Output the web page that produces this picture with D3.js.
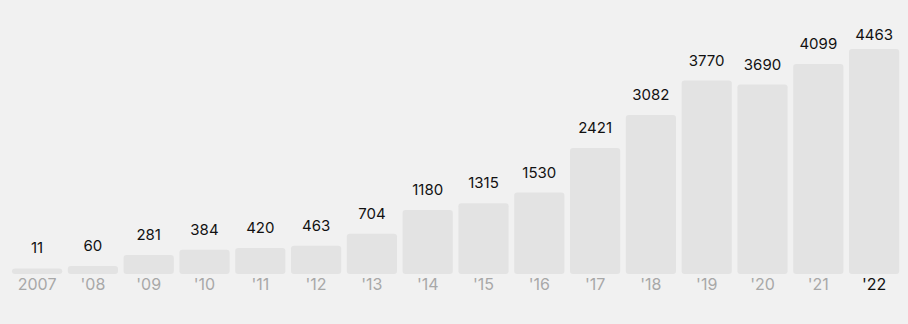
<html>
  <head>
    <script src="https://d3js.org/d3.v7.min.js"></script>
    <style>
      body { margin: 0; background: #f1f1f1; }
      svg { display: block; font-family: Inter, "Noto Sans", sans-serif; }
    </style>
  </head>

  <body>
    <svg id="vis"></svg>
  </body>

  <script>
    // Values per year
    var years = ['2007', "'08", "'09", "'10", "'11", "'12", "'13", "'14", "'15", "'16", "'17", "'18", "'19", "'20", "'21", "'22"]
    var counts = [11, 60, 281, 384, 420, 463, 704, 1180, 1315, 1530, 2421, 3082, 3770, 3690, 4099, 4463]
    var highlight = "'22"

    var width = 908
    var height = 324
    var baseline = 274

    var svg = d3.select('#vis')
      .attr('width', width)
      .attr('height', height)

    svg.append('rect')
      .attr('width', width)
      .attr('height', height)
      .attr('fill', '#f1f1f1')

    // x scale
    var x = d3.scaleBand()
      .domain(years)
      .range([6.4, 904.8])
      .padding(0.1)

    // y scale (bars keep a small minimum stub, tallest bar is capped)
    var y = d3.scaleLinear()
      .domain([0, 4400])
      .range([baseline - 5, baseline - 225])
      .clamp(true)

    var data = years.map(function(d, i){ return {year: d, value: counts[i]} })

    // Bars
    svg.append('g')
      .selectAll('rect')
      .data(data)
      .join('rect')
      .attr('x', function(d){ return x(d.year) })
      .attr('y', function(d){ return y(d.value) })
      .attr('width', x.bandwidth())
      .attr('height', function(d){ return baseline - y(d.value) })
      .attr('rx', 3)
      .attr('fill', '#e3e3e3')

    // Value labels
    svg.append('g')
      .selectAll('text')
      .data(data)
      .join('text')
      .attr('x', function(d){ return x(d.year) + x.bandwidth() / 2 })
      .attr('y', function(d){ return Math.max(y(d.value) - 15, 40) })
      .attr('text-anchor', 'middle')
      .attr('font-size', 15)
      .attr('fill', '#111')
      .text(function(d){ return d.value })

    // x axis labels
    var axis = svg.append('g')
      .attr('transform', 'translate(0,' + baseline + ')')
      .call(d3.axisBottom(x).tickSize(0).tickPadding(16))
    axis.select('.domain').remove()
    axis.selectAll('text')
      .attr('font-family', 'Inter, "Noto Sans", sans-serif')
      .attr('font-size', 16)
      .attr('dy', 0)
      .attr('fill', function(d){ return d === highlight ? '#111' : '#a8a8a8' })
  </script>
</html>
